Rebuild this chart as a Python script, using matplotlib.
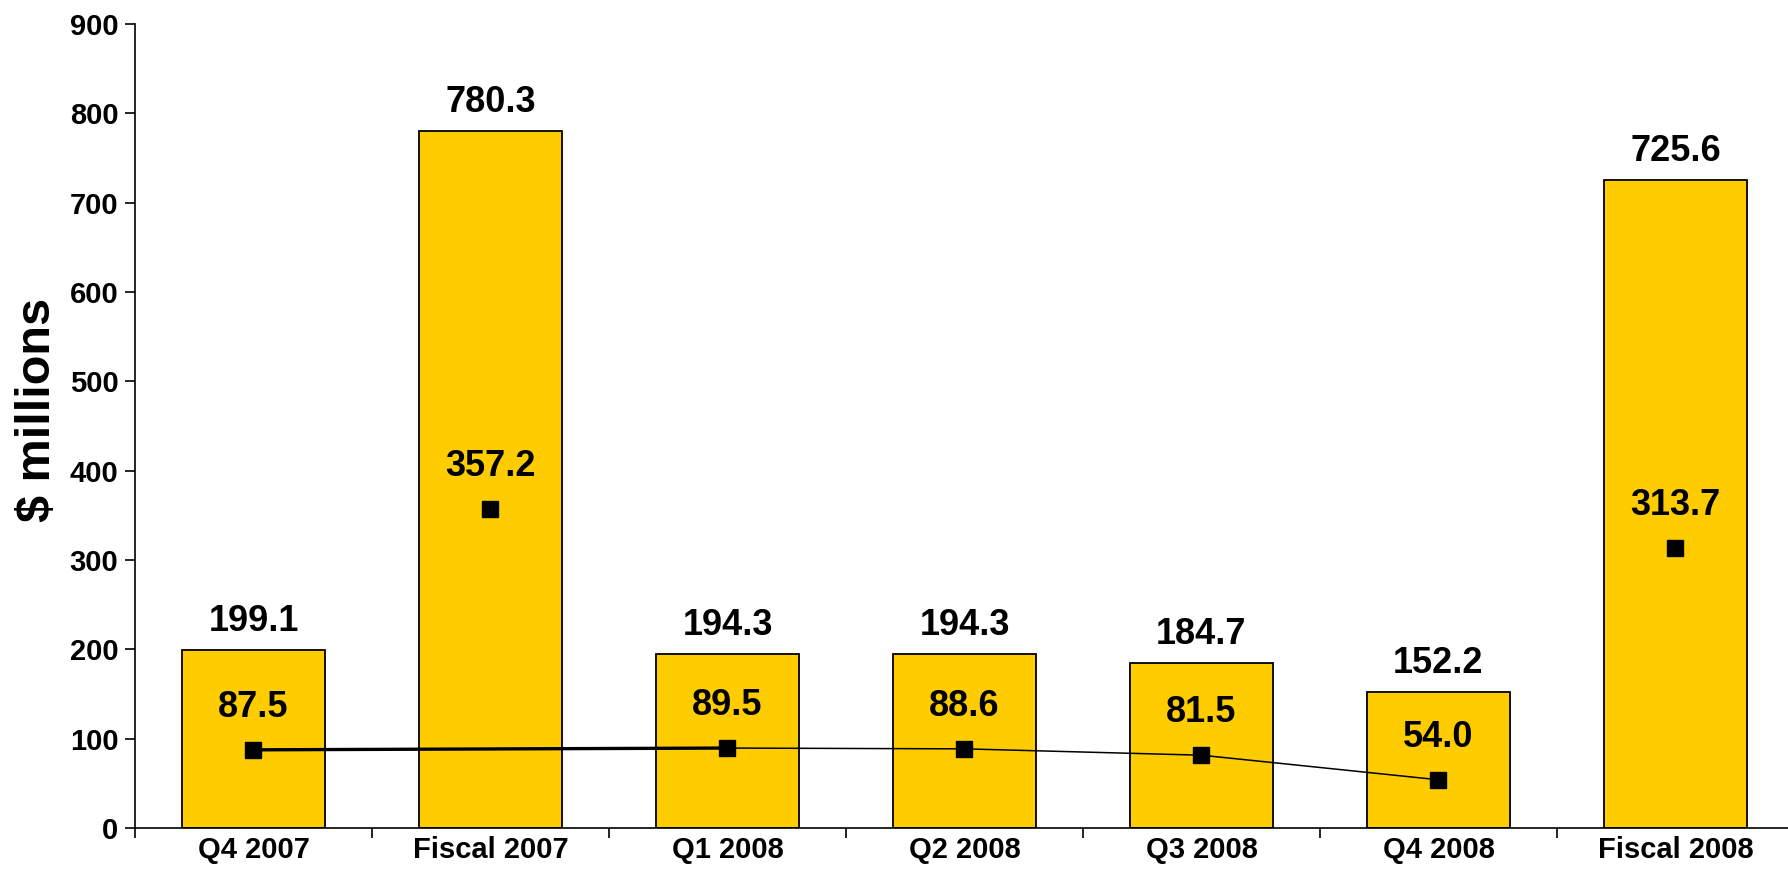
import matplotlib
matplotlib.use('Agg')
import matplotlib.pyplot as plt
from matplotlib.ticker import FixedLocator, NullFormatter

plt.rcParams['font.family'] = ['Liberation Sans', 'DejaVu Sans']
plt.rcParams['font.weight'] = 'bold'

categories = ['Q4 2007', 'Fiscal 2007', 'Q1 2008', 'Q2 2008', 'Q3 2008', 'Q4 2008', 'Fiscal 2008']
totals = [199.1, 780.3, 194.3, 194.3, 184.7, 152.2, 725.6]
points = [87.5, 357.2, 89.5, 88.6, 81.5, 54.0, 313.7]

# quarters joined by the line; fiscal years stand alone
first_link = [0, 2]
quarter_run = [2, 3, 4, 5]

fig = plt.figure(figsize=(17.88, 8.85), dpi=100)
ax = fig.add_axes([0.0755, 0.0644, 0.9245, 0.9085])

x = list(range(len(categories)))
ax.bar(x, totals, width=0.6, color='#FFCC00', edgecolor='black', linewidth=1.3, zorder=2)

ax.plot(first_link, [points[i] for i in first_link], color='black', linewidth=2.4, zorder=3)
ax.plot(quarter_run, [points[i] for i in quarter_run], color='black', linewidth=1.1, zorder=3)
ax.plot(x, points, linestyle='none', marker='s', markersize=12, color='black', zorder=4)

for i in x:
    ax.annotate(f'{totals[i]:.1f}', (i, totals[i]), xytext=(0, 8), textcoords='offset points',
                ha='center', va='bottom', fontsize=26, fontweight='bold')
    ax.annotate(f'{points[i]:.1f}', (i, points[i]), xytext=(0, 18), textcoords='offset points',
                ha='center', va='bottom', fontsize=26, fontweight='bold')

ax.set_xlim(-0.5, 6.475)
ax.set_ylim(0, 900)
ax.set_yticks(range(0, 901, 100))
ax.set_xticks(x)
ax.set_xticklabels(categories, fontsize=21)
ax.xaxis.set_minor_locator(FixedLocator([i + 0.5 for i in range(-1, 7)]))
ax.xaxis.set_minor_formatter(NullFormatter())
ax.tick_params(axis='x', which='major', length=0, pad=6)
ax.tick_params(axis='x', which='minor', length=7, width=1.2, direction='out')
ax.tick_params(axis='y', length=7, width=1.2, labelsize=21, pad=5)

for side in ['top', 'right']:
    ax.spines[side].set_visible(False)
for side in ['left', 'bottom']:
    ax.spines[side].set_linewidth(1.2)

fig.text(0.021, 0.537, r'\$ millions', rotation=90, ha='center', va='center',
         fontsize=35, fontweight='bold')

fig.savefig('out.png', dpi=100)
